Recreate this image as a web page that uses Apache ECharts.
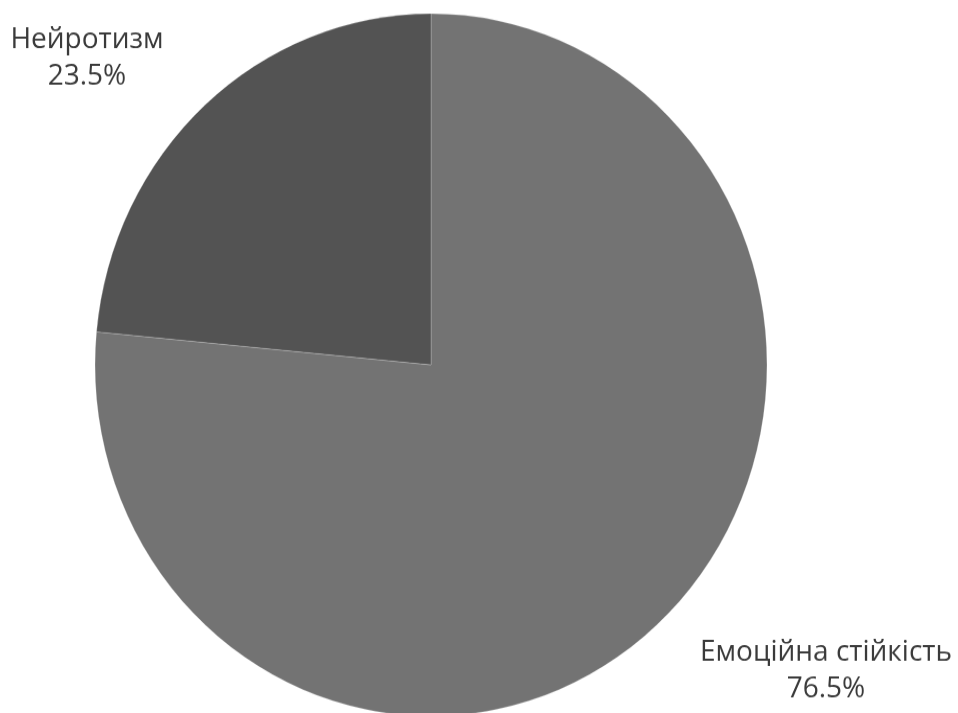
<!DOCTYPE html>
<html>
<head>
<meta charset="utf-8">
<script src="https://cdn.jsdelivr.net/npm/echarts@6/dist/echarts.min.js"></script>
<style>
  html, body { margin: 0; padding: 0; background: #ffffff; overflow: hidden; }
  #wrap { width: 958px; height: 713px; overflow: hidden; }
  /* the pie is drawn slightly taller than wide */
  #chart { width: 958px; height: 682px; transform: scaleY(1.04545); transform-origin: 0 0; }
</style>
</head>
<body>
<div id="wrap"><div id="chart"></div></div>
<script>
// Distribution of participants by emotional stability vs neuroticism
const categories = ['Емоційна стійкість', 'Нейротизм'];
const values = [76.5, 23.5];
const sliceColors = ['#737373', '#535353'];

// label anchor points (chart pixels), one per slice
const labelAnchors = [[826, 642], [87, 56]];

const chart = echarts.init(document.getElementById('chart'), null, { renderer: 'canvas' });

chart.setOption({
  animation: false,
  backgroundColor: '#ffffff',
  series: [{
    type: 'pie',
    center: [431, 349],
    radius: 336,
    startAngle: 90,
    clockwise: true,
    percentPrecision: 1,
    data: categories.map((name, i) => ({
      name: name,
      value: values[i],
      itemStyle: { color: sliceColors[i] }
    })),
    itemStyle: {
      borderColor: 'rgba(255,255,255,0.22)',
      borderWidth: 1
    },
    emphasis: { disabled: true },
    label: {
      show: true,
      position: 'outside',
      overflow: 'none',
      formatter: '{b}\n{d}%',
      fontFamily: '"Open Sans", "Noto Sans", sans-serif',
      fontSize: 28,
      lineHeight: 35,
      color: '#3a3a3a'
    },
    labelLine: { show: false },
    labelLayout: function (params) {
      const p = labelAnchors[params.dataIndex];
      return { x: p[0], y: p[1], align: 'center', verticalAlign: 'middle' };
    }
  }]
});
</script>
</body>
</html>
